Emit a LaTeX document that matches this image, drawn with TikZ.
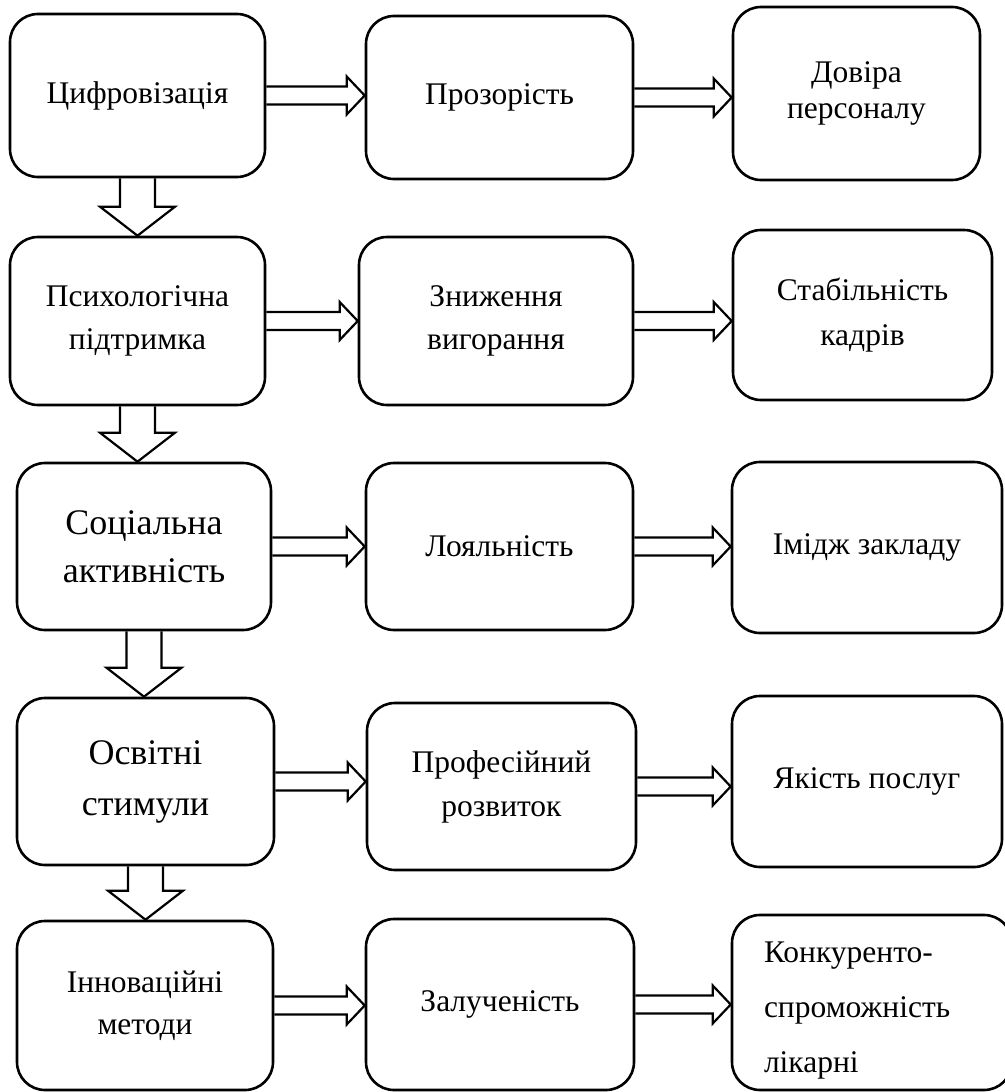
\documentclass[tikz,border=0pt]{standalone}
\usepackage{fontspec}
\setmainfont{Liberation Serif}
\usepackage{tikz}
\usetikzlibrary{calc}
\tikzset{
  box/.style={draw, line width=2.6pt, rounded corners=28pt, align=center, inner sep=0pt},
  lead/.style={font=\fontsize{31.5}{#1}\selectfont},
  biglead/.style={font=\fontsize{36}{#1}\selectfont},
  flow/.style={draw, line width=2.2pt, line join=miter}
}
% block arrow to the right, from node #1 to node #2
\newcommand{\flowright}[2]{%
  \draw[flow] let \p1=(#1.east), \p2=(#2.west) in
    (\x1,\y1+9pt) -- (\x2-18pt,\y1+9pt) -- (\x2-18pt,\y1+19pt) -- (\x2,\y1)
    -- (\x2-18pt,\y1-19pt) -- (\x2-18pt,\y1-9pt) -- (\x1,\y1-9pt);}
% block arrow downwards, from node #1 to node #2
\newcommand{\flowdown}[2]{%
  \draw[flow] let \p1=(#1.south), \p2=(#2.north) in
    (\x1-17.5pt,\y1) -- (\x1-17.5pt,\y2+29pt) -- (\x1-37.5pt,\y2+29pt) -- (\x1,\y2)
    -- (\x1+37.5pt,\y2+29pt) -- (\x1+17.5pt,\y2+29pt) -- (\x1+17.5pt,\y1);}
\begin{document}
\begin{tikzpicture}[x=1pt, y=-1pt]
\useasboundingbox (0,0) rectangle (1004,1092);
% ---------- row 1 ----------
\node[box, lead=36, minimum width=255, minimum height=163] (cyfr) at (137.5,95.5) {Цифровізація};
\node[box, lead=36, minimum width=267, minimum height=163] (proz) at (499.5,97.5) {Прозорість};
\node[box, lead=36, minimum width=247, minimum height=173] (dovira) at (856.5,93.5) {Довіра\\персоналу};
% ---------- row 2 ----------
\node[box, lead=43, minimum width=255, minimum height=168] (psych) at (137.5,321) {Психологічна\\підтримка};
\node[box, lead=43, minimum width=274, minimum height=168] (burn) at (496,321) {Зниження\\вигорання};
\node[box, lead=45, minimum width=259, minimum height=170] (stab) at (862.5,315) {Стабільність\\кадрів};
% ---------- row 3 ----------
\node[box, biglead=48, minimum width=254, minimum height=167] (social) at (144,546.5) {Соціальна\\активність};
\node[box, lead=43, minimum width=267, minimum height=167] (loyal) at (499.5,546.5) {Лояльність};
\node[box, lead=43, minimum width=270, minimum height=171] (image) at (867,547.5) {Імідж закладу};
% ---------- row 4 ----------
\node[box, biglead=51, minimum width=257, minimum height=167] (edu) at (145.5,781.5) {Освітні\\стимули};
\node[box, lead=44, minimum width=269, minimum height=167] (prof) at (501.5,786.5) {Професійний\\розвиток};
\node[box, lead=43, minimum width=270, minimum height=171] (quality) at (867,781.5) {Якість послуг};
% ---------- row 5 ----------
\node[box, lead=42, minimum width=256, minimum height=169] (innov) at (145,1005.5) {Інноваційні\\методи};
\node[box, lead=43, minimum width=268, minimum height=171] (engage) at (500,1004.5) {Залученість};
\node[box, lead=55, align=left, text width=216, text height=37pt,
      minimum width=280, minimum height=175] (compet) at (872,1002.5) {Конкуренто-\\спроможність\\лікарні};
% ---------- arrows ----------
\flowright{cyfr}{proz}   \flowright{proz}{dovira}
\flowright{psych}{burn}  \flowright{burn}{stab}
\flowright{social}{loyal} \flowright{loyal}{image}
\flowright{edu}{prof}    \flowright{prof}{quality}
\flowright{innov}{engage} \flowright{engage}{compet}
\flowdown{cyfr}{psych}
\flowdown{psych}{social}
\flowdown{social}{edu}
\flowdown{edu}{innov}
\end{tikzpicture}
\end{document}
